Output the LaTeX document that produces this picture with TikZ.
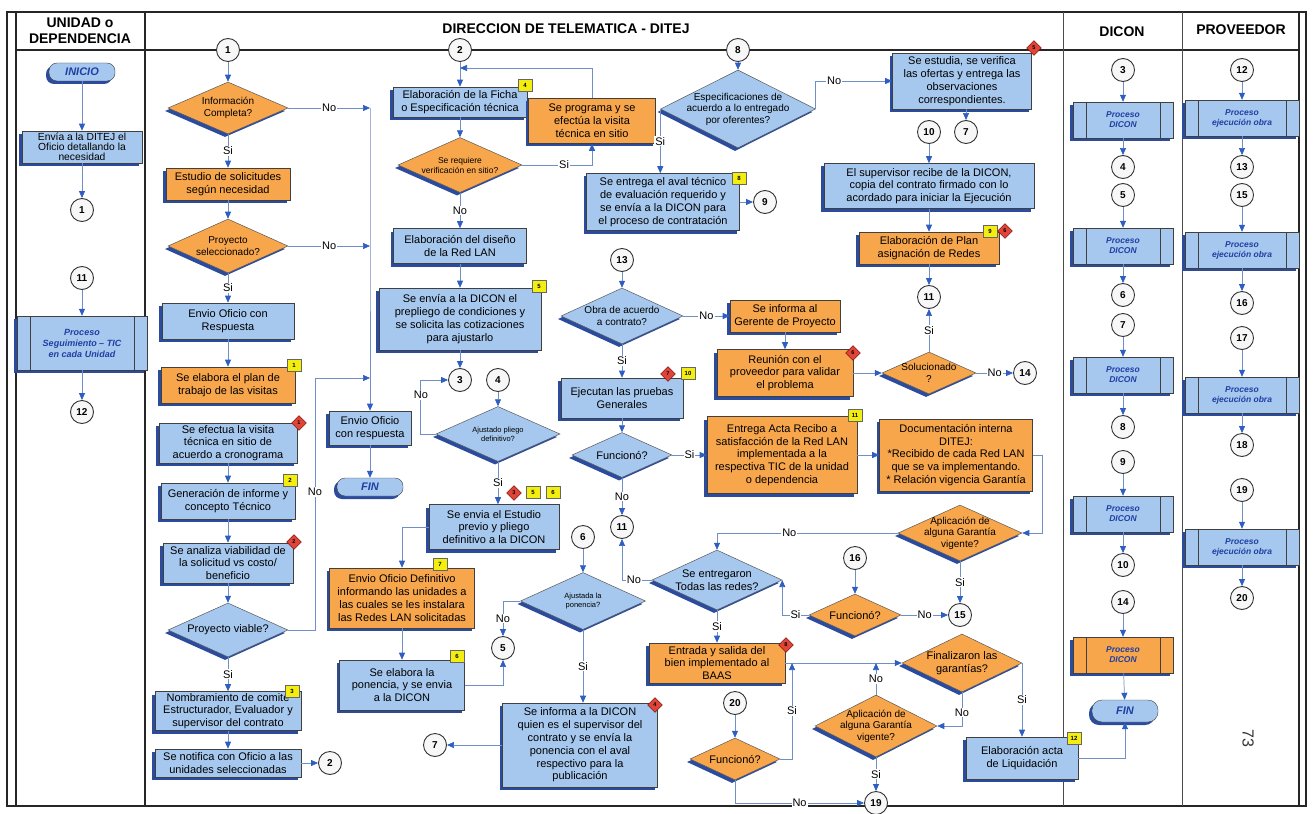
\documentclass[tikz,border=0pt]{standalone}
\usepackage{fontspec}
\setmainfont{Liberation Sans}
\usepackage{tikz}
\usetikzlibrary{shapes.geometric, arrows.meta, positioning, shadows}

\definecolor{boxblue}{HTML}{A6C8EE}
\definecolor{boxorange}{HTML}{F7A64C}
\definecolor{shadblue}{HTML}{2B4C9E}
\definecolor{lineblue}{HTML}{6F8FC6}
\definecolor{arrowblue}{HTML}{2F5EC2}
\definecolor{textblue}{HTML}{1F3FA3}
\definecolor{tagyellow}{HTML}{F4EE10}
\definecolor{tagred}{HTML}{DE4437}

\newcommand{\fnorm}{\fontsize{11}{12.8}\selectfont}
\newcommand{\fsmal}{\fontsize{10.3}{10.2}\selectfont}
\newcommand{\fdia}{\fontsize{10}{11.5}\selectfont}
\newcommand{\fmini}{\fontsize{7.5}{9}\selectfont}

\begin{document}
\begin{tikzpicture}[x=1pt, y=-1pt,
    shd/.style={drop shadow={shadow xshift=-3pt, shadow yshift=-3pt, fill=shadblue, opacity=1}},
    bx/.style={rectangle, draw=black!75, line width=0.6pt, align=center, inner sep=1.5pt, font=\fnorm, shd},
    blu/.style={bx, fill=boxblue},
    orng/.style={bx, fill=boxorange},
    dia/.style={diamond, draw=black!65, line width=0.5pt, inner sep=0pt, shd},
    bdia/.style={dia, fill=boxblue},
    odia/.style={dia, fill=boxorange},
    dtxt/.style={align=center, font=\fdia, inner sep=0pt},
    term/.style={rectangle, rounded corners=8pt, draw=black!75, fill=boxblue, minimum width=66pt, minimum height=18pt, font=\fnorm\bfseries\itshape, text=textblue, shd},
    pproc/.style={rectangle, draw=black!75, fill=boxblue, align=center, minimum width=100pt, minimum height=36pt, font=\fontsize{8.5}{10}\selectfont\bfseries\itshape, text=textblue, shd,
        path picture={\draw[black!75] ([xshift=13pt]path picture bounding box.north west) -- ([xshift=13pt]path picture bounding box.south west) ([xshift=-13pt]path picture bounding box.north east) -- ([xshift=-13pt]path picture bounding box.south east);}},
    cnum/.style={circle, draw=black!80, line width=0.9pt, fill=gray!6, minimum size=23pt, inner sep=0pt, font=\fontsize{10}{10}\selectfont\bfseries},
    ytag/.style={rectangle, draw=black!60, fill=tagyellow, minimum width=14pt, minimum height=12pt, inner sep=0pt, font=\fontsize{6}{6}\selectfont\bfseries},
    rtag/.style={diamond, draw=red!40!black, fill=tagred, minimum size=15pt, inner sep=0pt, font=\fontsize{5.5}{6}\selectfont\bfseries},
    arr/.style={draw=lineblue, line width=0.7pt, -{Triangle[length=7pt, width=6pt, color=arrowblue]}},
    ln/.style={draw=lineblue, line width=0.7pt},
    yn/.style={fill=white, inner sep=1pt, font=\fnorm},
    hdr/.style={align=center, font=\fontsize{14}{16}\selectfont\bfseries}
  ]
  \useasboundingbox (0,0) rectangle (1313,813);
  \fill[white] (0,0) rectangle (1313,813);

  % frame and lanes
  \draw[line width=1.6pt, black!85] (7,12) rectangle (1306,806);
  \draw[line width=2.2pt, black!85] (16,12) -- (16,806);
  \draw[line width=2.2pt, black!85] (1299,12) -- (1299,806);
  \draw[line width=1.4pt, black!85] (16,50) -- (1299,50);
  \draw[line width=1.2pt, black!85] (145,12) -- (145,806);
  \draw[line width=0.6pt, black!70] (1063,12) -- (1063,806);
  \draw[line width=0.6pt, black!70] (1182,12) -- (1182,806);
  \node[hdr] (hunid) at (80,31) {UNIDAD o\\DEPENDENCIA};
  \node[hdr] (hditej) at (566,29) {DIRECCION DE TELEMATICA - DITEJ};
  \node[hdr] (hdicon) at (1122,32) {DICON};
  \node[hdr] (hprov) at (1241,30) {PROVEEDOR};

  % unidad o dependencia
  \node[term] (ini) at (82,72) {INICIO};
  \node[blu, minimum width=120pt, minimum height=32pt, font=\fsmal] (env) at (82,147) {Envía a la DITEJ el\\Oficio detallando la\\necesidad};
  \node[cnum] (u1) at (82,210) {1};
  \node[cnum] (u11) at (82,278) {11};
  \node[pproc, minimum width=130pt, minimum height=54pt, font=\fontsize{9}{11}\selectfont\bfseries\itshape] (pseg) at (82,343) {Proceso\\Seguimiento – TIC\\en cada Unidad};
  \node[cnum] (u12) at (82,412) {12};
  \draw[arr] (ini) -- (env);
  \draw[arr] (env) -- (u1);
  \draw[arr] (u11) -- (pseg);
  \draw[arr] (pseg) -- (u12);

  % ditej, first column
  \node[cnum] (c1) at (228,50) {1};
  \node[odia, minimum width=120pt, minimum height=52pt, label={[dtxt]center:{Información\\Completa?}}] (dinf) at (228,108) {};
  \node[orng, minimum width=124pt, minimum height=32pt] (est) at (228,184) {Estudio de solicitudes\\según necesidad};
  \node[odia, minimum width=120pt, minimum height=54pt, label={[dtxt]center:{Proyecto\\seleccionado?}}] (dproy) at (228,246) {};
  \node[blu, minimum width=132pt, minimum height=36pt] (eoc) at (228,321) {Envio Oficio con\\Respuesta};
  \node[orng, minimum width=134pt, minimum height=36pt] (plan) at (228,385) {Se elabora el plan de\\trabajo de las visitas};
  \node[blu, minimum width=138pt, minimum height=40pt] (vis) at (228,443) {Se efectua la visita\\técnica en sitio de\\acuerdo a cronograma};
  \node[blu, minimum width=134pt, minimum height=36pt] (gen) at (228,501) {Generación de informe y\\concepto Técnico};
  \node[blu, minimum width=130pt, minimum height=40pt] (anal) at (228,563) {Se analiza viabilidad de\\la solicitud vs costo/\\beneficio};
  \node[bdia, minimum width=120pt, minimum height=54pt, label={[dtxt, font=\fnorm]center:{Proyecto viable?}}] (dviab) at (228,630) {};
  \node[blu, minimum width=146pt, minimum height=38pt] (nomb) at (228,711) {Nombramiento de comité\\Estructurador, Evaluador y\\supervisor del contrato};
  \node[blu, minimum width=146pt, minimum height=28pt] (notif) at (228,763) {Se notifica con Oficio a las\\unidades seleccionadas};
  \node[cnum] (c2b) at (330,763) {2};
  \node[ytag] (t1) at (294,365) {1};
  \node[rtag] (r1) at (299,423) {1};
  \node[ytag] (t2) at (290,480) {2};
  \node[rtag] (r2) at (294,542) {2};
  \node[ytag] (t3) at (292,691) {3};
  \draw[arr] (c1) -- (dinf);
  \draw[arr] (dinf) -- node[yn] (ls1) {Si} (est);
  \draw[arr] (est) -- (dproy);
  \draw[arr] (dproy) -- node[yn] (ls2) {Si} (eoc);
  \draw[arr] (eoc) -- (plan);
  \draw[arr] (vis) -- (gen);
  \draw[arr] (gen) -- (anal);
  \draw[arr] (anal) -- (dviab);
  \draw[arr] (dviab) -- node[yn] (ls3) {Si} (nomb);
  \draw[arr] (nomb) -- (notif);
  \draw[arr] (notif) -- (c2b);

  % no branches to the reply letter
  \coordinate (j1) at (370,108);
  \coordinate (j2) at (370,246);
  \coordinate (j3) at (370,378);
  \coordinate (b1) at (315,378);
  \node[blu, minimum width=82pt, minimum height=34pt] (eor) at (370,428) {Envio Oficio\\con respuesta};
  \node[term] (fin1) at (370,487) {FIN};
  \draw[arr] (dinf) -- node[yn] (ln1) {No} (j1);
  \draw[arr] (dproy) -- node[yn] (ln2) {No} (j2);
  \draw[arr] (dviab) -| (b1) -- (j3);
  \node[yn] (ln3) at (315,492) {No};
  \draw[ln] (j1) -- (j2) -- (j3);
  \draw[arr] (j3) -- (eor);
  \draw[arr] (eor) -- (fin1);

  % ditej, second column
  \node[cnum] (c2) at (460,50) {2};
  \coordinate (j4) at (460,68);
  \node[blu, minimum width=134pt, minimum height=30pt] (ficha) at (460,102) {Elaboración de la Ficha\\o Especificación técnica};
  \node[odia, minimum width=124pt, minimum height=55pt, label={[dtxt, font=\fontsize{8.5}{10}\selectfont]center:{Se requiere\\verificación en sitio?}}] (dver) at (460,165) {};
  \node[orng, minimum width=127pt, minimum height=45pt] (prog) at (592,121) {Se programa y se\\efectúa la visita\\técnica en sitio};
  \node[blu, minimum width=133pt, minimum height=35pt] (dis) at (460,246) {Elaboración del diseño\\de la Red LAN};
  \node[blu, minimum width=162pt, minimum height=62pt] (prep) at (460,319) {Se envía a la DICON el\\prepliego de condiciones y\\se solicita  las cotizaciones\\para ajustarlo};
  \node[cnum] (c3) at (460,380) {3};
  \node[cnum] (c4) at (498,380) {4};
  \node[bdia, minimum width=124pt, minimum height=55pt, label={[dtxt, font=\fmini]center:{Ajustado pliego\\definitivo?}}] (dajus) at (498,434) {};
  \node[blu, minimum width=130pt, minimum height=45pt] (estp) at (494,527) {Se envia el Estudio\\previo y pliego\\definitivo a la DICON};
  \node[orng, minimum width=145pt, minimum height=60pt] (eod) at (402,598) {Envio Oficio Definitivo\\informando las unidades a\\las cuales se les instalara\\las Redes LAN solicitadas};
  \node[blu, minimum width=125pt, minimum height=50pt] (pon) at (402,685) {Se elabora la\\ponencia, y se envia\\a la DICON};
  \node[cnum] (c5) at (503,648) {5};
  \node[cnum] (c6) at (583,537) {6};
  \node[bdia, minimum width=125pt, minimum height=57pt, label={[dtxt, font=\fmini]center:{Ajustada la\\ponencia?}}] (dpon) at (583,601) {};
  \node[blu, minimum width=155pt, minimum height=84pt] (infd) at (580,745) {Se informa a  la DICON\\quien es el supervisor del\\contrato y se envía la\\ponencia con el aval\\respectivo para la\\publicación};
  \node[cnum] (c7) at (435,745) {7};
  \node[ytag] (t4) at (525,85) {4};
  \node[ytag] (t5) at (539,286) {5};
  \node[rtag] (r3) at (514,493) {3};
  \node[ytag] (t5b) at (533,492) {5};
  \node[ytag] (t6) at (553,492) {6};
  \node[ytag] (t7) at (440,564) {7};
  \node[ytag] (t6b) at (457,656) {6};
  \node[rtag] (r4) at (655,705) {4};
  \draw[arr] (c2) -- (ficha);
  \draw[arr] (prog.north) |- (j4);
  \draw[arr] (ficha) -- (dver);
  \draw[arr] (dver) -| node[yn, pos=0.3] (ls4) {Si} (prog.south);
  \draw[arr] (dver) -- node[yn] (ln4) {No} (dis);
  \draw[arr] (dis) -- (prep);
  \draw[arr] (prep) -- (c3);
  \draw[arr] (c4) -- (dajus);
  \draw[arr] (dajus.west) -- ++(-15,0) |- (c3.west);
  \node[yn] (ln5) at (421,395) {No};
  \draw[arr] (dajus) -- node[yn] (ls5) {Si} (dajus |- estp.north);
  \draw[arr] (estp.west) -| (eod.north);
  \draw[arr] (eod) -- (pon);
  \draw[arr] (pon.east) -| (c5.south);
  \draw[arr] (c6) -- (dpon);
  \draw[arr] (dpon.west) -| node[yn, pos=0.75] (ln6) {No} (c5.north);
  \draw[arr] (dpon) -- node[yn] (ls6) {Si} (dpon |- infd.north);
  \draw[arr] (infd) -- (c7);

  % ditej, third part
  \node[cnum] (c8) at (738,50) {8};
  \node[bdia, minimum width=155pt, minimum height=78pt, label={[dtxt]center:{Especificaciones de\\acuerdo a lo entregado\\por oferentes?}}] (desp) at (738,109) {};
  \node[blu, minimum width=139pt, minimum height=56pt] (est2) at (962,81) {Se estudia, se verifica\\las ofertas y entrega las\\observaciones\\correspondientes.};
  \node[blu, minimum width=153pt, minimum height=57pt] (aval) at (663,202) {Se entrega el aval técnico\\de evaluación requerido y\\se envía a la DICON para\\el proceso de contratación};
  \node[cnum] (c9) at (765,202) {9};
  \node[cnum] (c10) at (929,132) {10};
  \node[cnum] (c7b) at (966,132) {7};
  \node[blu, minimum width=210pt, minimum height=45pt] (sup) at (929,186) {El supervisor recibe de la DICON,\\copia del contrato firmado  con lo\\acordado para iniciar la Ejecución};
  \node[orng, minimum width=140pt, minimum height=32pt] (plan2) at (929,248) {Elaboración de Plan\\asignación de Redes};
  \node[cnum] (c11c) at (929,297) {11};
  \node[odia, minimum width=94pt, minimum height=42pt, label={[dtxt]center:{Solucionado\\?}}] (dsol) at (929,373) {};
  \node[cnum] (c14) at (1025,373) {14};
  \node[cnum] (c13) at (622,260) {13};
  \node[bdia, minimum width=122pt, minimum height=56pt, label={[dtxt]center:{Obra de acuerdo\\a contrato?}}] (dobra) at (622,316) {};
  \node[orng, minimum width=110pt, minimum height=32pt] (ger) at (785,316) {Se informa al\\Gerente de Proyecto};
  \node[orng, minimum width=136pt, minimum height=47pt] (reu) at (785,373) {Reunión con el\\proveedor para validar\\el problema};
  \node[blu, minimum width=122pt, minimum height=40pt] (prue) at (622,398) {Ejecutan las pruebas\\Generales};
  \node[bdia, minimum width=100pt, minimum height=45pt, label={[dtxt, font=\fnorm]center:{Funcionó?}}] (dfun) at (622,455) {};
  \node[cnum] (c11b) at (622,527) {11};
  \node[orng, minimum width=150pt, minimum height=77pt] (acta) at (782,455) {Entrega Acta Recibo a\\satisfacción de la Red LAN\\implementada a la\\respectiva TIC de la unidad\\o dependencia};
  \node[orng, minimum width=153pt, minimum height=72pt] (doc) at (956,455) {Documentación interna\\DITEJ:\\*Recibido de cada Red LAN\\que se va implementando.\\* Relación vigencia Garantía};
  \node[odia, minimum width=124pt, minimum height=56pt, label={[dtxt]center:{Aplicación de\\alguna Garantía\\vigente?}}] (dapl) at (960,533) {};
  \node[bdia, minimum width=130pt, minimum height=60pt, label={[dtxt, font=\fnorm]center:{Se entregaron\\Todas las redes?}}] (dent) at (717,580) {};
  \node[cnum] (c16) at (855,558) {16};
  \node[odia, minimum width=92pt, minimum height=42pt, label={[dtxt, font=\fnorm]center:{Funcionó?}}] (dfun2) at (855,615) {};
  \node[cnum] (c15) at (960,615) {15};
  \node[orng, minimum width=136pt, minimum height=40pt] (ent) at (717,663) {Entrada y salida del\\bien implementado al\\BAAS};
  \node[odia, minimum width=120pt, minimum height=58pt, label={[dtxt, font=\fnorm]center:{Finalizaron las\\garantías?}}] (dfin) at (962,663) {};
  \node[odia, minimum width=122pt, minimum height=62pt, label={[dtxt]center:{Aplicación de\\alguna Garantía\\vigente?}}] (dapl2) at (876,726) {};
  \node[cnum] (c20) at (735,703) {20};
  \node[odia, minimum width=90pt, minimum height=42pt, label={[dtxt, font=\fnorm]center:{Funcionó?}}] (dfun3) at (735,759) {};
  \node[cnum] (c19) at (876,803) {19};
  \node[blu, minimum width=112pt, minimum height=42pt] (liq) at (1022,758) {Elaboración acta\\de Liquidación};
  \coordinate (ja) at (792,663);
  \coordinate (jb) at (876,663);
  \node[rtag] (r5) at (1034,48) {5};
  \node[ytag] (t8) at (739,178) {8};
  \node[ytag] (t9) at (990,231) {9};
  \node[rtag] (r6) at (1005,231) {6};
  \node[rtag] (r7) at (668,374) {7};
  \node[ytag] (t10) at (688,373) {10};
  \node[rtag] (r6b) at (853,353) {6};
  \node[ytag] (t11) at (855,415) {11};
  \node[rtag] (r8) at (786,645) {8};
  \node[ytag] (t12) at (1074,738) {12};
  \draw[arr] (c8) -- (desp);
  \draw[arr] (desp.east) |- node[yn, pos=0.62] (ln7) {No} (est2.west);
  \draw[arr] (desp.west) -- node[yn] (ls7) {Si} (desp.west |- aval.north);
  \draw[arr] (aval) -- (c9);
  \draw[arr] (est2.south -| c7b) -- (c7b);
  \draw[arr] (c10) -- (sup);
  \draw[arr] (sup) -- (plan2);
  \draw[arr] (plan2) -- (c11c);
  \draw[arr] (dsol) -- node[yn] (ls8) {Si} (c11c);
  \draw[arr] (dsol) -- node[yn] (ln8) {No} (c14);
  \draw[arr] (reu) -- (dsol);
  \draw[arr] (ger) -- (reu);
  \draw[arr] (c13) -- (dobra);
  \draw[arr] (dobra) -- node[yn] (ln9) {No} (ger);
  \draw[arr] (dobra) -- node[yn] (ls9) {Si} (prue);
  \draw[arr] (prue) -- (dfun);
  \draw[arr] (dfun) -- node[yn] (ln10) {No} (c11b);
  \draw[arr] (dfun) -- node[yn] (ls10) {Si} (acta);
  \draw[arr] (acta) -- (doc);
  \draw[arr] (doc.east) -- ++(10,0) |- (dapl.east);
  \draw[arr] (dapl.west) -| node[yn, pos=0.3] (ln11) {No} (dent.north);
  \draw[arr] (dapl) -- node[yn] (ls11) {Si} (c15);
  \draw[arr] (dent.west) -| node[yn, pos=0.3] (ln12) {No} (c11b.south);
  \draw[arr] (dent) -- node[yn] (ls12) {Si} (ent);
  \draw[arr] (c16) -- (dfun2);
  \draw[arr] (dfun2.west) -| node[yn, pos=0.25] (ls13) {Si} (dent.east);
  \draw[arr] (dfun2) -- node[yn] (ln13) {No} (c15);
  \draw[arr] (ent) -- (dfin);
  \draw[arr] (dapl2) -- node[yn] (ln14) {No} (jb);
  \draw[arr] (dfin.south) |- node[yn, pos=0.3] (ln15) {No} (dapl2.east);
  \draw[arr] (dfin.east) -| node[yn, pos=0.75] (ls14) {Si} (liq.north);
  \draw[arr] (dapl2) -- node[yn] (ls15) {Si} (c19);
  \draw[arr] (c20) -- (dfun3);
  \draw[arr] (dfun3.east) -| node[yn, pos=0.75] (ls16) {Si} (ja);
  \draw[arr] (dfun3.south) |- node[yn, pos=0.75] (ln16) {No} (c19.west);

  % dicon
  \node[cnum] (k3) at (1123,70) {3};
  \node[pproc] (pk1) at (1123,120) {Proceso\\DICON};
  \node[cnum] (k4) at (1123,167) {4};
  \node[cnum] (k5) at (1123,195) {5};
  \node[pproc] (pk2) at (1123,246) {Proceso\\DICON};
  \node[cnum] (k6) at (1123,295) {6};
  \node[cnum] (k7) at (1123,325) {7};
  \node[pproc] (pk3) at (1123,375) {Proceso\\DICON};
  \node[cnum] (k8) at (1123,427) {8};
  \node[cnum] (k9) at (1123,462) {9};
  \node[pproc] (pk4) at (1123,514) {Proceso\\DICON};
  \node[cnum] (k10) at (1123,565) {10};
  \node[cnum] (k14) at (1123,602) {14};
  \node[pproc, fill=boxorange] (pk5) at (1123,655) {Proceso\\DICON};
  \node[term, minimum height=22pt, rounded corners=10pt] (fin2) at (1125,711) {FIN};
  \draw[arr] (k3) -- (pk1);
  \draw[arr] (pk1) -- (k4);
  \draw[arr] (k5) -- (pk2);
  \draw[arr] (pk2) -- (k6);
  \draw[arr] (k7) -- (pk3);
  \draw[arr] (pk3) -- (k8);
  \draw[arr] (k9) -- (pk4);
  \draw[arr] (pk4) -- (k10);
  \draw[arr] (k14) -- (pk5);
  \draw[arr] (pk5) -- (fin2);
  \draw[arr] (liq.east) -| (fin2.south);

  % proveedor
  \node[cnum] (v12) at (1242,70) {12};
  \node[pproc, minimum width=114pt] (pv1) at (1242,118) {Proceso\\ejecución obra};
  \node[cnum] (v13) at (1242,167) {13};
  \node[cnum] (v15) at (1242,195) {15};
  \node[pproc, minimum width=114pt] (pv2) at (1242,250) {Proceso\\ejecución obra};
  \node[cnum] (v16) at (1242,303) {16};
  \node[cnum] (v17) at (1242,338) {17};
  \node[pproc, minimum width=114pt] (pv3) at (1242,395) {Proceso\\ejecución obra};
  \node[cnum] (v18) at (1242,445) {18};
  \node[cnum] (v19) at (1242,490) {19};
  \node[pproc, minimum width=114pt] (pv4) at (1242,547) {Proceso\\ejecución obra};
  \node[cnum] (v20) at (1242,598) {20};
  \draw[arr] (v12) -- (pv1);
  \draw[arr] (pv1) -- (v13);
  \draw[arr] (v15) -- (pv2);
  \draw[arr] (pv2) -- (v16);
  \draw[arr] (v17) -- (pv3);
  \draw[arr] (pv3) -- (v18);
  \draw[arr] (v19) -- (pv4);
  \draw[arr] (pv4) -- (v20);

  \node[rotate=-90, font=\fontsize{16}{16}\selectfont, text=black!80] (pnum) at (1248,738) {73};
\end{tikzpicture}
\end{document}
